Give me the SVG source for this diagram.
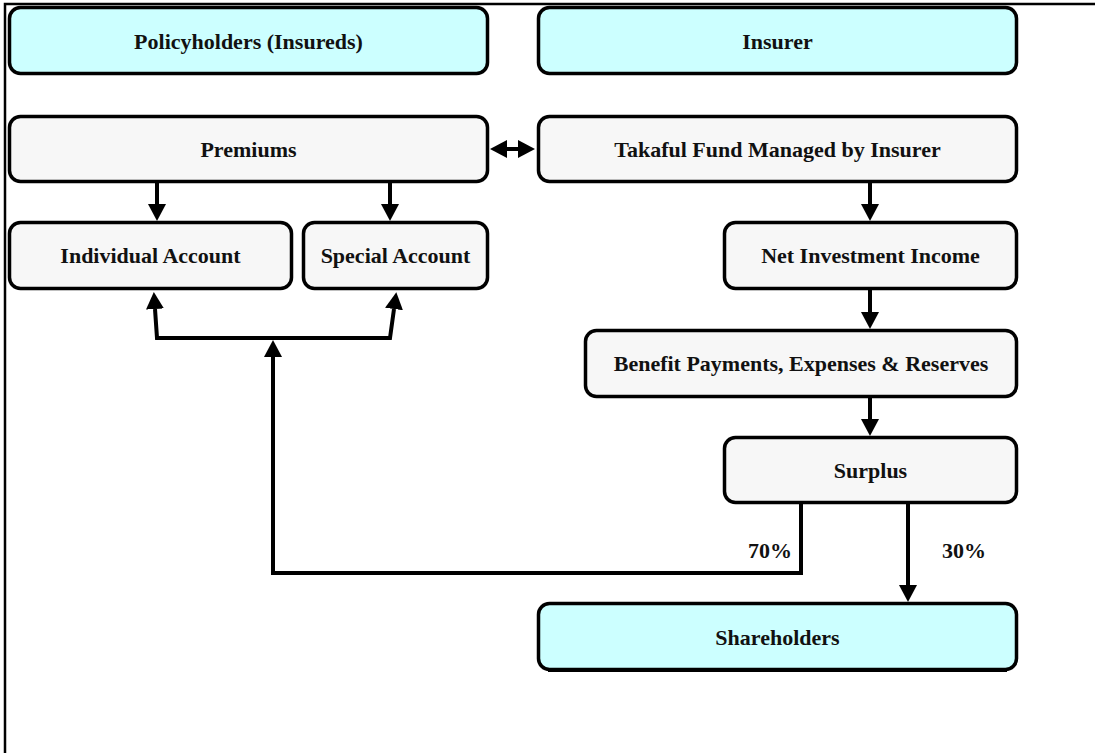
<svg xmlns="http://www.w3.org/2000/svg" width="1095" height="753" viewBox="0 0 1095 753">
<style>
.box{stroke:#000;stroke-width:3.5}
.blue{fill:#ccffff}
.grey{fill:#f7f7f7}
.lbl{font-family:"Liberation Serif","Times New Roman",serif;font-weight:bold;font-size:22px;fill:#111;text-anchor:middle}
.con{fill:none;stroke:#000;stroke-width:4}
</style>
<defs>
<marker id="ah" markerUnits="userSpaceOnUse" viewBox="0 0 17 18" refX="0" refY="9" markerWidth="17" markerHeight="18" orient="auto-start-reverse">
<path d="M0,0 L17,9 L0,18 Z" fill="#000"/>
</marker>
</defs>
<rect width="1095" height="753" fill="#fff"/>
<path d="M5,753 V4 H1095" fill="none" stroke="#000" stroke-width="2.5"/>

<g id="n-policyholders"><rect class="box blue" x="9.5" y="7.5" width="478" height="66" rx="11"/><text class="lbl" x="248.5" y="49">Policyholders (Insureds)</text></g>
<g id="n-insurer"><rect class="box blue" x="538.5" y="7.5" width="478" height="66" rx="11"/><text class="lbl" x="777.5" y="49">Insurer</text></g>
<g id="n-premiums"><rect class="box grey" x="9.5" y="116.5" width="478" height="65" rx="11"/><text class="lbl" x="248.5" y="157">Premiums</text></g>
<g id="n-takaful"><rect class="box grey" x="538.5" y="116.5" width="478" height="65" rx="11"/><text class="lbl" x="777.5" y="157">Takaful Fund Managed by Insurer</text></g>
<g id="n-individual"><rect class="box grey" x="9.5" y="222.5" width="282" height="66" rx="11"/><text class="lbl" x="150.5" y="263">Individual Account</text></g>
<g id="n-special"><rect class="box grey" x="303.5" y="222.5" width="184" height="66" rx="11"/><text class="lbl" x="395.5" y="263">Special Account</text></g>
<g id="n-netinv"><rect class="box grey" x="724.5" y="222.5" width="292" height="66" rx="11"/><text class="lbl" x="870.5" y="263">Net Investment Income</text></g>
<g id="n-benefit"><rect class="box grey" x="585.5" y="330.5" width="431" height="66" rx="11"/><text class="lbl" x="801" y="371">Benefit Payments, Expenses &amp; Reserves</text></g>
<g id="n-surplus"><rect class="box grey" x="724.5" y="437.5" width="292" height="65" rx="11"/><text class="lbl" x="870.5" y="478">Surplus</text></g>
<g id="n-shareholders"><rect class="box blue" x="538.5" y="603.5" width="478" height="66" rx="11"/><path d="M548,671 H1007" stroke="#000" stroke-width="2"/><text class="lbl" x="777.5" y="645">Shareholders</text></g>

<g id="connectors">
<path class="con" d="M157,183 V204" marker-end="url(#ah)"/>
<path class="con" d="M390,183 V204" marker-end="url(#ah)"/>
<path class="con" d="M507,149 H518" marker-start="url(#ah)" marker-end="url(#ah)"/>
<path class="con" d="M870,183 V204" marker-end="url(#ah)"/>
<path class="con" d="M870,290 V312" marker-end="url(#ah)"/>
<path class="con" d="M870,398 V419" marker-end="url(#ah)"/>
<path class="con" d="M908,504 V585" marker-end="url(#ah)"/>
<path class="con" d="M801,504 V573 H273 V357" marker-end="url(#ah)"/>
<path class="con" d="M155,309 L157,338 H390 L394,309" marker-start="url(#ah)" marker-end="url(#ah)"/>
<text class="lbl" x="770" y="558">70%</text>
<text class="lbl" x="964" y="558">30%</text>
</g>
</svg>
